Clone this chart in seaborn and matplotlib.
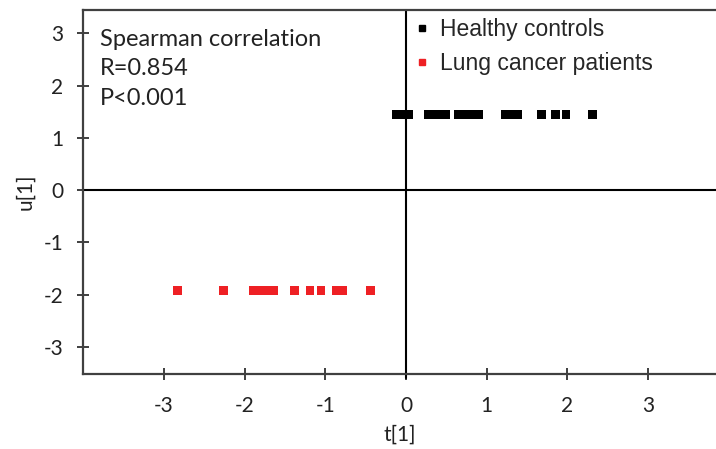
import numpy as np
import pandas as pd
import matplotlib
matplotlib.use("Agg")
import matplotlib.pyplot as plt
import seaborn as sns
from matplotlib.lines import Line2D

healthy_t = [-0.12, -0.05, 0.04, 0.27, 0.38, 0.49, 0.65, 0.74, 0.85, 0.90,
             1.23, 1.31, 1.38, 1.68, 1.85, 1.98, 2.31]
healthy_u = [1.45] * len(healthy_t)
cancer_t = [-2.83, -2.26, -1.89, -1.80, -1.72, -1.64, -1.38, -1.19, -1.05,
            -0.86, -0.78, -0.44]
cancer_u = [-1.92] * len(cancer_t)
groups = ["Healthy controls", "Lung cancer patients"]
ticks = [-3, -2, -1, 0, 1, 2, 3]

df = pd.DataFrame({
    "t": healthy_t + cancer_t,
    "u": healthy_u + cancer_u,
    "group": [groups[0]] * len(healthy_t) + [groups[1]] * len(cancer_t),
})

sns.set_style("white")
plt.rcParams['font.family'] = ['Lato', 'DejaVu Sans']

fig = plt.figure(figsize=(7.16, 4.49), dpi=100)
ax = fig.add_axes([0.116, 0.167, 0.884, 0.811])

sns.scatterplot(data=df, x="t", y="u", hue="group", hue_order=groups,
                palette={groups[0]: "black", groups[1]: "#ee2024"},
                marker="s", s=36, linewidth=0, ax=ax, legend=False, zorder=3)

ax.set_xlim(-4.0, 3.84)
ax.set_ylim(-3.52, 3.45)
ax.axhline(0, color="black", lw=1.5, zorder=2)
ax.axvline(0, color="black", lw=1.5, zorder=2, ymin=-0.012, clip_on=False)

ax.set_xticks(ticks)
ax.set_yticks(ticks)
ax.set_xticklabels([str(v) for v in ticks])
ax.set_yticklabels([str(v) for v in ticks])
ax.tick_params(axis="both", direction="inout", length=8, width=1.3,
               color="#303030", labelsize=15, labelcolor="#222222",
               bottom=True, left=True)
ax.tick_params(axis="x", pad=12)
ax.tick_params(axis="y", pad=10)

for side in ["left", "bottom", "top"]:
    ax.spines[side].set_color("#404040")
    ax.spines[side].set_linewidth(1.6)
ax.spines["right"].set_visible(False)

ax.set_xlabel("t[1]", fontsize=15, color="#222222", labelpad=6)
ax.set_ylabel("u[1]", fontsize=15, color="#222222", labelpad=6)

ax.text(0.026, 0.948, "Spearman correlation\nR=0.854\nP<0.001",
        transform=ax.transAxes, ha="left", va="top", fontsize=17,
        color="#222222", linespacing=1.5)

handles = [Line2D([], [], marker="s", ls="", color="black", markersize=5),
           Line2D([], [], marker="s", ls="", color="#ee2024", markersize=5)]
ax.legend(handles, groups, loc="upper left", bbox_to_anchor=(0.485, 1.035),
          frameon=False, prop={"family": "Liberation Sans", "size": 16.5},
          handletextpad=0.3, labelspacing=0.5, handlelength=1.0)

fig.savefig("out.png", dpi=100)
